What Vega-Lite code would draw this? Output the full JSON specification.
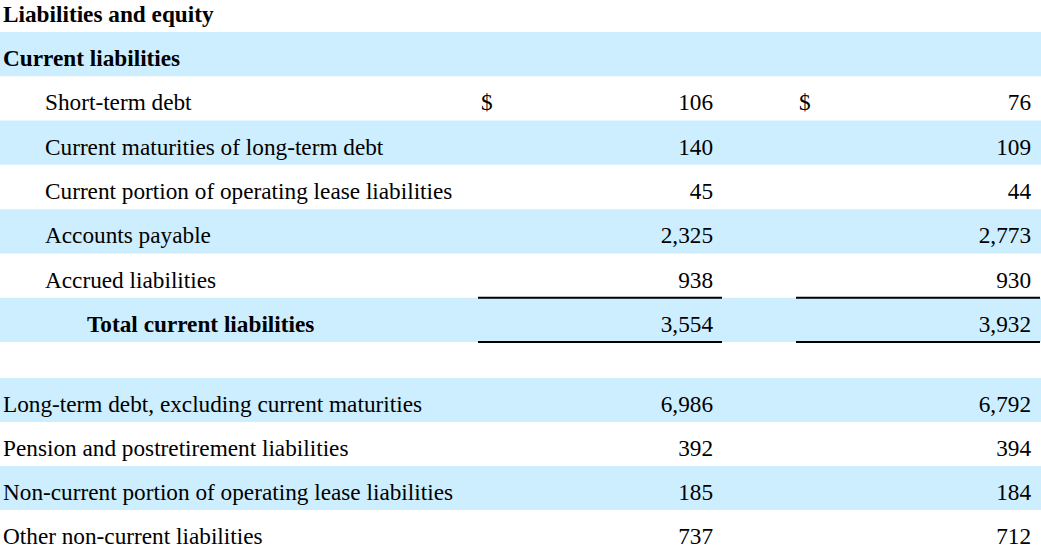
{
  "$schema": "https://vega.github.io/schema/vega-lite/v6.json",
  "padding": 0,
  "bounds": "flush",
  "background": "#ffffff",
  "spacing": 0,
  "config": {"view": {"stroke": null}, "text": {"font": "Liberation Serif", "fontSize": 23.25, "color": "#000000"}},
  "datasets": {
    "table": [
      {"row": 0, "label": "Liabilities and equity", "kind": "section", "level": 0, "cur": null, "prev": null, "dollar": false},
      {"row": 1, "label": "Current liabilities", "kind": "section", "level": 0, "cur": null, "prev": null, "dollar": false},
      {"row": 2, "label": "Short-term debt", "kind": "item", "level": 1, "cur": 106, "prev": 76, "dollar": true},
      {"row": 3, "label": "Current maturities of long-term debt", "kind": "item", "level": 1, "cur": 140, "prev": 109, "dollar": false},
      {"row": 4, "label": "Current portion of operating lease liabilities", "kind": "item", "level": 1, "cur": 45, "prev": 44, "dollar": false},
      {"row": 5, "label": "Accounts payable", "kind": "item", "level": 1, "cur": 2325, "prev": 2773, "dollar": false},
      {"row": 6, "label": "Accrued liabilities", "kind": "item", "level": 1, "cur": 938, "prev": 930, "dollar": false},
      {"row": 7, "label": "Total current liabilities", "kind": "total", "level": 2, "cur": 3554, "prev": 3932, "dollar": false},
      {"row": 9, "label": "Long-term debt, excluding current maturities", "kind": "item", "level": 0, "cur": 6986, "prev": 6792, "dollar": false},
      {"row": 10, "label": "Pension and postretirement liabilities", "kind": "item", "level": 0, "cur": 392, "prev": 394, "dollar": false},
      {"row": 11, "label": "Non-current portion of operating lease liabilities", "kind": "item", "level": 0, "cur": 185, "prev": 184, "dollar": false},
      {"row": 12, "label": "Other non-current liabilities", "kind": "item", "level": 0, "cur": 737, "prev": 712, "dollar": false}
    ]
  },
  "vconcat": [
    {
      "width": 1041,
      "height": 32,
      "data": {"name": "table"},
      "transform": [{"filter": "datum.row == 0"}],
      "mark": {"type": "text", "align": "left", "baseline": "alphabetic", "dy": 6, "fontWeight": "bold"},
      "encoding": {
        "x": {"field": "level", "type": "quantitative", "scale": {"domain": [0, 2], "range": [3, 87]}, "axis": null},
        "y": {"field": "row", "type": "ordinal", "scale": {"domain": [0], "paddingInner": 0, "paddingOuter": 0}, "axis": null},
        "text": {"field": "label"}
      }
    },
    {
      "width": 1041,
      "height": 310,
      "data": {"name": "table"},
      "transform": [{"filter": "datum.row >= 1 && datum.row <= 7"}],
      "encoding": {
        "y": {"field": "row", "type": "ordinal", "scale": {"domain": [1, 2, 3, 4, 5, 6, 7], "paddingInner": 0, "paddingOuter": 0}, "axis": null}
      },
      "resolve": {"scale": {"x": "independent"}},
      "layer": [
        {
          "transform": [{"filter": "datum.row % 2 == 1"}],
          "mark": {"type": "rect", "color": "#CCEEFF"},
          "encoding": {"x": {"value": 0}, "x2": {"value": "width"}}
        },
        {
          "transform": [{"filter": "datum.kind == 'item'"}],
          "mark": {"type": "text", "align": "left", "baseline": "alphabetic", "dy": 12},
          "encoding": {
            "x": {"field": "level", "type": "quantitative", "scale": {"domain": [0, 2], "range": [3, 87]}, "axis": null},
            "text": {"field": "label"}
          }
        },
        {
          "transform": [{"filter": "datum.kind != 'item'"}],
          "mark": {"type": "text", "align": "left", "baseline": "alphabetic", "dy": 12, "fontWeight": "bold"},
          "encoding": {
            "x": {"field": "level", "type": "quantitative", "scale": {"domain": [0, 2], "range": [3, 87]}, "axis": null},
            "text": {"field": "label"}
          }
        },
        {
          "transform": [{"fold": ["cur", "prev"], "as": ["col", "amount"]}, {"filter": "datum.amount != null"}],
          "mark": {"type": "text", "align": "right", "baseline": "alphabetic", "dy": 12, "dx": -9},
          "encoding": {
            "x": {"field": "col", "type": "nominal", "bandPosition": 1, "scale": {"type": "band", "domain": ["cur", "prev"], "range": [478, 1040], "paddingInner": 0.2327, "paddingOuter": 0}, "axis": null},
            "text": {"field": "amount", "type": "quantitative", "format": ","}
          }
        },
        {
          "transform": [{"filter": "datum.dollar"}, {"fold": ["cur", "prev"], "as": ["col", "amount"]}],
          "mark": {"type": "text", "align": "left", "baseline": "alphabetic", "dy": 12, "dx": 3},
          "encoding": {
            "x": {"field": "col", "type": "nominal", "bandPosition": 0, "scale": {"type": "band", "domain": ["cur", "prev"], "range": [478, 1040], "paddingInner": 0.2327, "paddingOuter": 0}, "axis": null},
            "text": {"value": "$"}
          }
        },
        {
          "transform": [{"filter": "datum.kind == 'total'"}, {"fold": ["cur", "prev"], "as": ["col", "amount"]}],
          "mark": {"type": "rule", "color": "#000000", "strokeWidth": 2},
          "encoding": {
            "x": {"field": "col", "type": "nominal", "bandPosition": 0, "scale": {"type": "band", "domain": ["cur", "prev"], "range": [478, 1040], "paddingInner": 0.2327, "paddingOuter": 0}, "axis": null},
            "x2": {"field": "col", "bandPosition": 1},
            "y": {"field": "row", "type": "ordinal", "bandPosition": 0}
          }
        },
        {
          "transform": [{"filter": "datum.kind == 'total'"}, {"fold": ["cur", "prev"], "as": ["col", "amount"]}],
          "mark": {"type": "rule", "color": "#000000", "strokeWidth": 2},
          "encoding": {
            "x": {"field": "col", "type": "nominal", "bandPosition": 0, "scale": {"type": "band", "domain": ["cur", "prev"], "range": [478, 1040], "paddingInner": 0.2327, "paddingOuter": 0}, "axis": null},
            "x2": {"field": "col", "bandPosition": 1},
            "y": {"field": "row", "type": "ordinal", "bandPosition": 1}
          }
        }
      ]
    },
    {
      "width": 1041,
      "height": 212,
      "data": {"name": "table"},
      "transform": [{"filter": "datum.row >= 9"}],
      "encoding": {
        "y": {"field": "row", "type": "ordinal", "scale": {"domain": [9, 10, 11, 12], "paddingInner": 0, "paddingOuter": 0.409, "align": 1}, "axis": null}
      },
      "resolve": {"scale": {"x": "independent"}},
      "layer": [
        {
          "transform": [{"filter": "datum.row % 2 == 1"}],
          "mark": {"type": "rect", "color": "#CCEEFF"},
          "encoding": {"x": {"value": 0}, "x2": {"value": "width"}}
        },
        {
          "mark": {"type": "text", "align": "left", "baseline": "alphabetic", "dy": 12},
          "encoding": {
            "x": {"field": "level", "type": "quantitative", "scale": {"domain": [0, 2], "range": [3, 87]}, "axis": null},
            "text": {"field": "label"}
          }
        },
        {
          "transform": [{"fold": ["cur", "prev"], "as": ["col", "amount"]}, {"filter": "datum.amount != null"}],
          "mark": {"type": "text", "align": "right", "baseline": "alphabetic", "dy": 12, "dx": -9},
          "encoding": {
            "x": {"field": "col", "type": "nominal", "bandPosition": 1, "scale": {"type": "band", "domain": ["cur", "prev"], "range": [478, 1040], "paddingInner": 0.2327, "paddingOuter": 0}, "axis": null},
            "text": {"field": "amount", "type": "quantitative", "format": ","}
          }
        }
      ]
    }
  ]
}
